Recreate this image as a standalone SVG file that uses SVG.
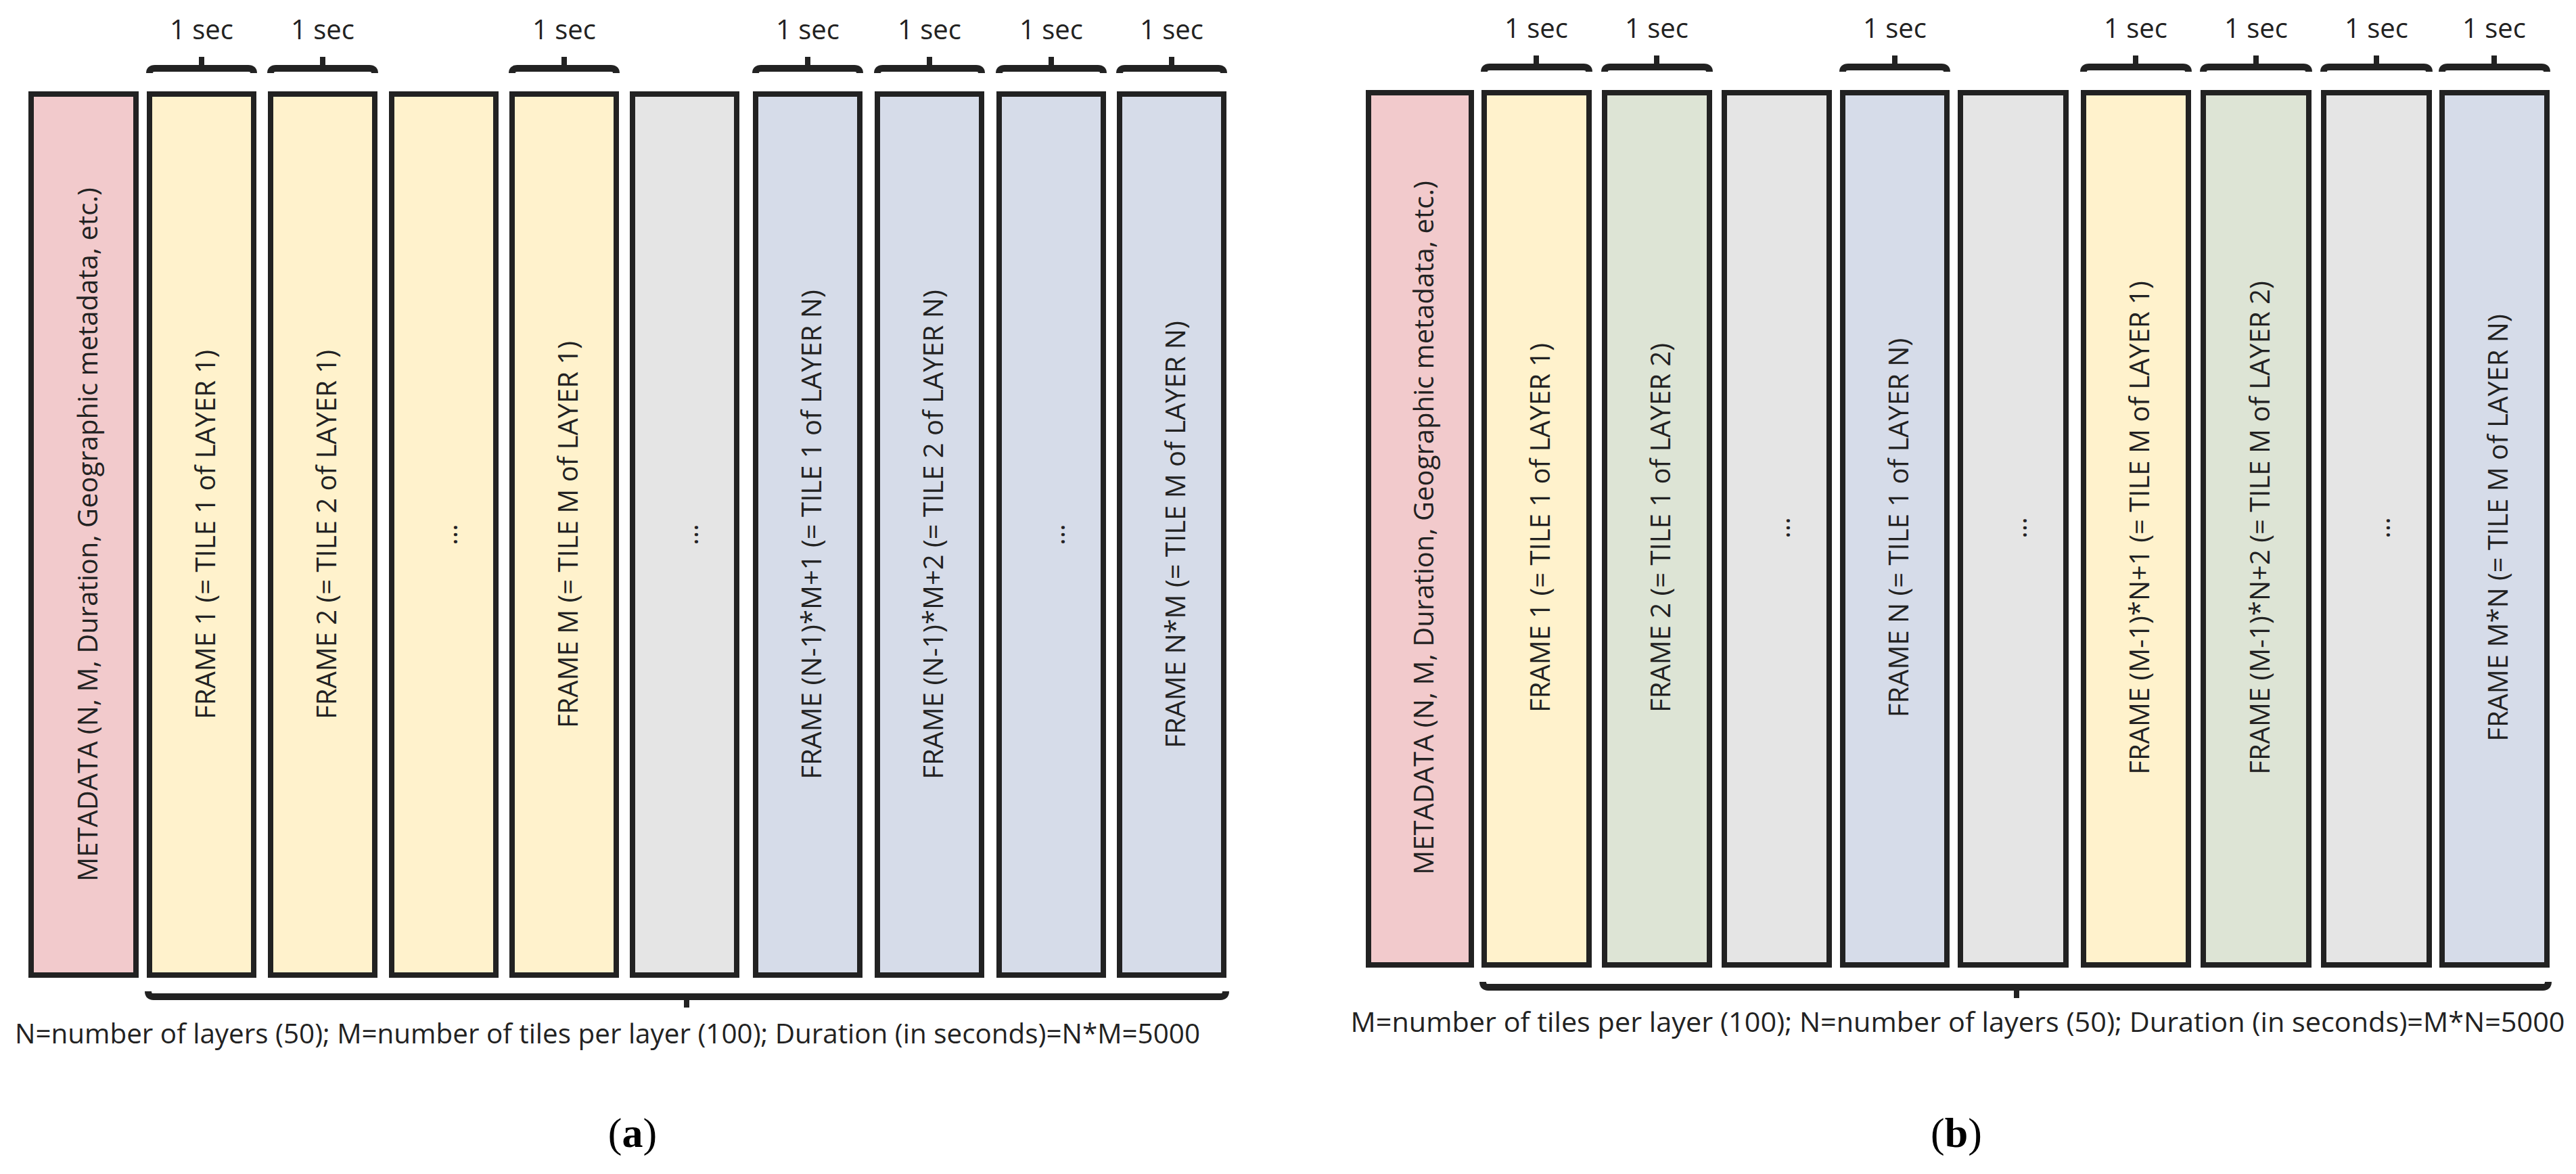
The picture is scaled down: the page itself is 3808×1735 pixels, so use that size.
<svg xmlns="http://www.w3.org/2000/svg" width="3808" height="1735" viewBox="0 0 3808 1735">
<style>
.b{stroke:#222;stroke-width:8}
.p{fill:#f2cacc}.y{fill:#fff2cc}.g{fill:#dde4d5}.e{fill:#e5e5e5}.u{fill:#d6dce9}
.t{font-family:"Open Sans",sans-serif;font-size:40px;fill:#222;text-anchor:middle;dominant-baseline:central}
.s{font-family:"Open Sans",sans-serif;font-size:40px;fill:#222;text-anchor:middle}
.br{fill:none;stroke:#222;stroke-width:10;stroke-linecap:butt}
.tk{stroke:#222;stroke-width:8}
.c{font-family:"Liberation Serif",serif;font-size:62px;fill:#000;text-anchor:middle}
</style>
<g id="connectors">
<path class="br" d="M221 108 Q221 101 229 101 H367 Q375 101 375 108"/><line class="tk" x1="298" y1="101" x2="298" y2="84"/>
<path class="br" d="M400 108 Q400 101 408 101 H546 Q554 101 554 108"/><line class="tk" x1="477" y1="101" x2="477" y2="84"/>
<path class="br" d="M757 108 Q757 101 765 101 H903 Q911 101 911 108"/><line class="tk" x1="834" y1="101" x2="834" y2="84"/>
<path class="br" d="M1117 108 Q1117 101 1125 101 H1263 Q1271 101 1271 108"/><line class="tk" x1="1194" y1="101" x2="1194" y2="84"/>
<path class="br" d="M1297 108 Q1297 101 1305 101 H1443 Q1451 101 1451 108"/><line class="tk" x1="1374" y1="101" x2="1374" y2="84"/>
<path class="br" d="M1477 108 Q1477 101 1485 101 H1623 Q1631 101 1631 108"/><line class="tk" x1="1554" y1="101" x2="1554" y2="84"/>
<path class="br" d="M1655 108 Q1655 101 1663 101 H1801 Q1809 101 1809 108"/><line class="tk" x1="1732" y1="101" x2="1732" y2="84"/>
<path class="br" d="M219 1465 Q219 1473 227 1473 H1804 Q1812 1473 1812 1465"/><line class="tk" x1="1015" y1="1473" x2="1015" y2="1489"/>

<path class="br" d="M2194 106 Q2194 99 2202 99 H2341 Q2349 99 2349 106"/><line class="tk" x1="2271" y1="99" x2="2271" y2="82"/>
<path class="br" d="M2372 106 Q2372 99 2380 99 H2519 Q2527 99 2527 106"/><line class="tk" x1="2449" y1="99" x2="2449" y2="82"/>
<path class="br" d="M2724 106 Q2724 99 2732 99 H2870 Q2878 99 2878 106"/><line class="tk" x1="2801" y1="99" x2="2801" y2="82"/>
<path class="br" d="M3080 106 Q3080 99 3088 99 H3227 Q3235 99 3235 106"/><line class="tk" x1="3157" y1="99" x2="3157" y2="82"/>
<path class="br" d="M3257 106 Q3257 99 3265 99 H3405 Q3413 99 3413 106"/><line class="tk" x1="3335" y1="99" x2="3335" y2="82"/>
<path class="br" d="M3435 106 Q3435 99 3443 99 H3583 Q3591 99 3591 106"/><line class="tk" x1="3513" y1="99" x2="3513" y2="82"/>
<path class="br" d="M3610 106 Q3610 99 3618 99 H3757 Q3765 99 3765 106"/><line class="tk" x1="3687" y1="99" x2="3687" y2="82"/>
<path class="br" d="M2192 1451 Q2192 1459 2200 1459 H3759 Q3767 1459 3767 1451"/><line class="tk" x1="2981" y1="1459" x2="2981" y2="1475"/>
</g>
<g id="labels-a">
<text class="s" x="298" y="58">1 sec</text><text class="s" x="477" y="58">1 sec</text><text class="s" x="834" y="58">1 sec</text>
<text class="s" x="1194" y="58">1 sec</text><text class="s" x="1374" y="58">1 sec</text><text class="s" x="1554" y="58">1 sec</text><text class="s" x="1732" y="58">1 sec</text>
<text class="s" x="898" y="1542" textLength="1752" lengthAdjust="spacingAndGlyphs">N=number of layers (50); M=number of tiles per layer (100); Duration (in seconds)=N*M=5000</text>
<text class="c" x="935" y="1695">(<tspan font-weight="bold">a</tspan>)</text>
</g>
<g id="labels-b">
<text class="s" x="2271" y="56">1 sec</text><text class="s" x="2449" y="56">1 sec</text><text class="s" x="2801" y="56">1 sec</text>
<text class="s" x="3157" y="56">1 sec</text><text class="s" x="3335" y="56">1 sec</text><text class="s" x="3513" y="56">1 sec</text><text class="s" x="3687" y="56">1 sec</text>
<text class="s" x="2894" y="1525" textLength="1795" lengthAdjust="spacingAndGlyphs">M=number of tiles per layer (100); N=number of layers (50); Duration (in seconds)=M*N=5000</text>
<text class="c" x="2892" y="1695">(<tspan font-weight="bold">b</tspan>)</text>
</g>
<g id="a-meta"><rect class="b p" x="46" y="139" width="155" height="1302"/><text class="t" transform="translate(128 790) rotate(-90)">METADATA (N, M, Duration, Geographic metadata, etc.)</text></g>
<g id="a-f1"><rect class="b y" x="221" y="139" width="154" height="1302"/><text class="t" transform="translate(302 790) rotate(-90)">FRAME 1 (= TILE 1 of LAYER 1)</text></g>
<g id="a-f2"><rect class="b y" x="400" y="139" width="154" height="1302"/><text class="t" transform="translate(481 790) rotate(-90)">FRAME 2 (= TILE 2 of LAYER 1)</text></g>
<g id="a-d1"><rect class="b y" x="579" y="139" width="154" height="1302"/><text class="t" transform="translate(660 790) rotate(-90)">...</text></g>
<g id="a-fm"><rect class="b y" x="757" y="139" width="154" height="1302"/><text class="t" transform="translate(838 790) rotate(-90)">FRAME M (= TILE M of LAYER 1)</text></g>
<g id="a-d2"><rect class="b e" x="935" y="139" width="154" height="1302"/><text class="t" transform="translate(1016 790) rotate(-90)">...</text></g>
<g id="a-fn1"><rect class="b u" x="1117" y="139" width="154" height="1302"/><text class="t" transform="translate(1198 790) rotate(-90)">FRAME (N-1)*M+1 (= TILE 1 of LAYER N)</text></g>
<g id="a-fn2"><rect class="b u" x="1297" y="139" width="154" height="1302"/><text class="t" transform="translate(1378 790) rotate(-90)">FRAME (N-1)*M+2 (= TILE 2 of LAYER N)</text></g>
<g id="a-d3"><rect class="b u" x="1477" y="139" width="154" height="1302"/><text class="t" transform="translate(1558 790) rotate(-90)">...</text></g>
<g id="a-fnm"><rect class="b u" x="1655" y="139" width="154" height="1302"/><text class="t" transform="translate(1736 790) rotate(-90)">FRAME N*M (= TILE M of LAYER N)</text></g>

<g id="b-meta"><rect class="b p" x="2023" y="137" width="152" height="1289"/><text class="t" transform="translate(2103 780) rotate(-90)">METADATA (N, M, Duration, Geographic metadata, etc.)</text></g>
<g id="b-f1"><rect class="b y" x="2194" y="137" width="155" height="1289"/><text class="t" transform="translate(2275 780) rotate(-90)">FRAME 1 (= TILE 1 of LAYER 1)</text></g>
<g id="b-f2"><rect class="b g" x="2372" y="137" width="155" height="1289"/><text class="t" transform="translate(2453 780) rotate(-90)">FRAME 2 (= TILE 1 of LAYER 2)</text></g>
<g id="b-d1"><rect class="b e" x="2549" y="137" width="155" height="1289"/><text class="t" transform="translate(2630 780) rotate(-90)">...</text></g>
<g id="b-fn"><rect class="b u" x="2724" y="137" width="154" height="1289"/><text class="t" transform="translate(2805 780) rotate(-90)">FRAME N (= TILE 1 of LAYER N)</text></g>
<g id="b-d2"><rect class="b e" x="2898" y="137" width="156" height="1289"/><text class="t" transform="translate(2980 780) rotate(-90)">...</text></g>
<g id="b-fm1"><rect class="b y" x="3080" y="137" width="155" height="1289"/><text class="t" transform="translate(3161 780) rotate(-90)">FRAME (M-1)*N+1 (= TILE M of LAYER 1)</text></g>
<g id="b-fm2"><rect class="b g" x="3257" y="137" width="156" height="1289"/><text class="t" transform="translate(3339 780) rotate(-90)">FRAME (M-1)*N+2 (= TILE M of LAYER 2)</text></g>
<g id="b-d3"><rect class="b e" x="3435" y="137" width="156" height="1289"/><text class="t" transform="translate(3517 780) rotate(-90)">...</text></g>
<g id="b-fmn"><rect class="b u" x="3610" y="137" width="155" height="1289"/><text class="t" transform="translate(3691 780) rotate(-90)">FRAME M*N (= TILE M of LAYER N)</text></g>
</svg>
